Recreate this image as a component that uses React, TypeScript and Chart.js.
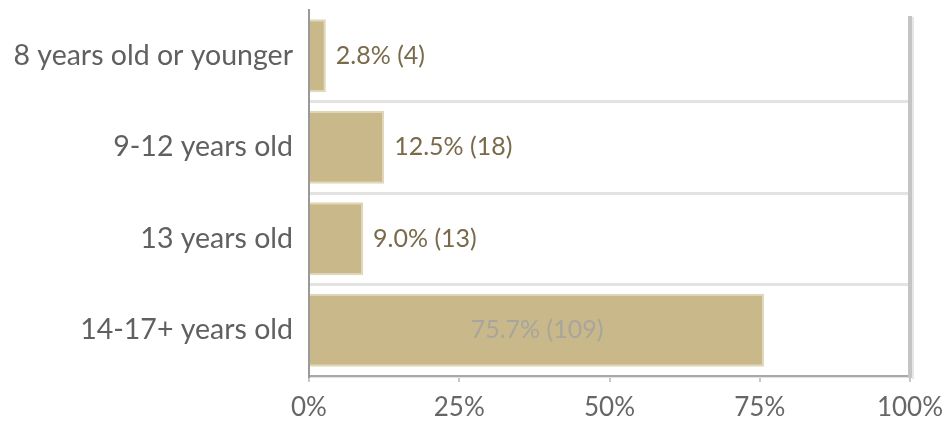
import React, { useEffect, useRef } from "react";
import { Chart, registerables } from "chart.js";

Chart.register(...registerables);

const categories = ["8 years old or younger", "9-12 years old", "13 years old", "14-17+ years old"];
const percentages = [2.8, 12.5, 9.0, 75.7];
const counts = [4, 18, 13, 109];
const xTicks = [0, 25, 50, 75, 100];

const FONT = "Lato";
const BAR_COLOR = "#c8b88a";
const LABEL_COLOR = "#7a6a4c";

const labelsPlugin = {
  id: "valueLabels",
  afterDatasetsDraw(chart: any) {
    const { ctx, chartArea } = chart;
    const meta = chart.getDatasetMeta(0);
    ctx.save();
    ctx.font = `25px ${FONT}`;
    ctx.textBaseline = "middle";
    meta.data.forEach((bar: any, i: number) => {
      const text = `${percentages[i].toFixed(1)}% (${counts[i]})`;
      const w = ctx.measureText(text).width;
      if (bar.x + 10 + w > chartArea.right - 10) {
        ctx.fillStyle = "#a8a59c";
        ctx.textAlign = "center";
        ctx.fillText(text, (bar.base + bar.x) / 2, bar.y);
      } else {
        ctx.fillStyle = LABEL_COLOR;
        ctx.textAlign = "left";
        ctx.fillText(text, bar.x + 10, bar.y);
      }
    });
    ctx.restore();
  },
};

const framePlugin = {
  id: "frame",
  afterDraw(chart: any) {
    const { ctx, chartArea } = chart;
    ctx.save();
    ctx.fillStyle = "#e6e6e6";
    ctx.fillRect(chartArea.right + 2, chartArea.top + 7, 2, chartArea.bottom - chartArea.top - 4);
    ctx.fillStyle = "#c4c4c4";
    ctx.fillRect(chartArea.right - 2, chartArea.top + 6, 4, chartArea.bottom - chartArea.top - 4);
    ctx.restore();
  },
};

export default function App() {
  const ref = useRef<HTMLCanvasElement | null>(null);
  useEffect(() => {
    document.body.style.margin = "0";
    const chart = new Chart(ref.current as HTMLCanvasElement, {
      type: "bar",
      data: {
        labels: categories,
        datasets: [
          {
            data: percentages,
            backgroundColor: BAR_COLOR,
            borderColor: "#e0d6ba",
            borderWidth: 2,
            barPercentage: 0.8,
            categoryPercentage: 1,
          },
        ],
      },
      options: {
        indexAxis: "y",
        animation: false,
        responsive: false,
        layout: { padding: { top: 10, right: 40, left: 0, bottom: 0 } },
        plugins: { legend: { display: false }, tooltip: { enabled: false } },
        scales: {
          x: {
            min: 0,
            max: 100,
            afterBuildTicks: (scale: any) => {
              scale.ticks = xTicks.map((v) => ({ value: v }));
            },
            afterFit: (scale: any) => {
              scale.height = 46;
              scale.paddingLeft = 0;
              scale.paddingRight = 0;
            },
            ticks: {
              callback: (v: any) => `${v}%`,
              color: "#666666",
              font: { family: FONT, size: 26 },
              padding: 10,
            },
            grid: {
              drawOnChartArea: false,
              drawTicks: true,
              tickLength: 6,
              color: "#c8c8c8",
              lineWidth: 2,
            },
            border: { display: true, color: "#a8a8a8", width: 2 },
          },
          y: {
            afterFit: (scale: any) => {
              scale.width = 309;
              scale.paddingTop = 0;
              scale.paddingBottom = 0;
            },
            ticks: {
              color: "#606060",
              font: { family: FONT, size: 28.5 },
              padding: 16,
            },
            grid: {
              offset: true,
              drawTicks: false,
              color: (c: any) => (c.index === 0 || c.index === 4 ? "rgba(0,0,0,0)" : "#e3e3e3"),
              lineWidth: 3,
            },
            border: { display: true, color: "#999999", width: 2 },
          },
        },
      },
      plugins: [labelsPlugin, framePlugin],
    });
    return () => chart.destroy();
  }, []);
  return (
    <div style={{ width: 950, height: 422 }}>
      <canvas ref={ref} width={950} height={422} style={{ display: "block" }} />
    </div>
  );
}
